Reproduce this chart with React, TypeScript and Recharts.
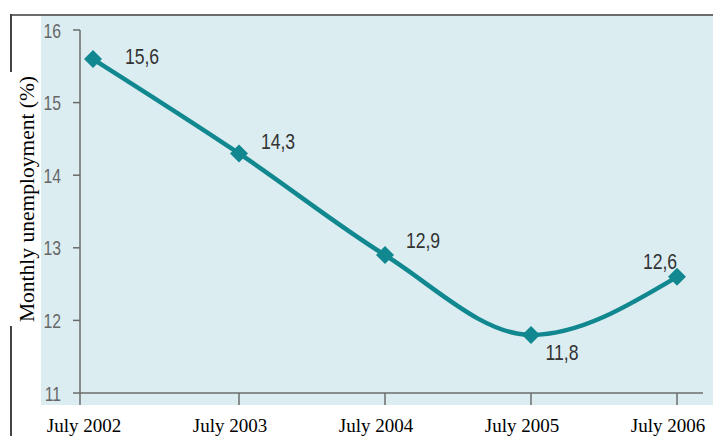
import { LineChart, Line, XAxis, YAxis, LabelList } from 'recharts';

const years = ['July 2002', 'July 2003', 'July 2004', 'July 2005', 'July 2006'];
const unemployment = [15.6, 14.3, 12.9, 11.8, 12.6];
const valueLabels = ['15,6', '14,3', '12,9', '11,8', '12,6'];
const yTicks = [11, 12, 13, 14, 15, 16];

// where each value label sits relative to its point (dx, dy)
const labelOffsets: [number, number][] = [[49, -3], [39, -12], [38, -15], [31, 17], [-17, -16]];

const TEAL = '#11888f';
const AXIS = '#6b6b6b';
const SANS = "'Liberation Sans', Arial, sans-serif";
const SERIF = "'Liberation Serif', 'Times New Roman', serif";

const chartData = years.map((year, i) => ({
  year,
  value: unemployment[i],
  label: valueLabels[i],
}));

const Diamond = (props: any) => {
  const { cx, cy } = props;
  if (cx == null || cy == null) return null;
  const r = 9;
  return <polygon points={`${cx},${cy - r} ${cx + r},${cy} ${cx},${cy + r} ${cx - r},${cy}`} fill={TEAL} />;
};

const XTick = (props: any) => {
  const { x, y, payload, index } = props;
  // first tick sits on the y axis itself in the original
  const lx = index === 0 ? x - 13 : x;
  return (
    <g>
      <line x1={lx} y1={y} x2={lx} y2={y + 12} stroke={AXIS} strokeWidth={1.5} />
      <text x={x - 9} y={y + 39} textAnchor="middle" fontFamily={SERIF} fontWeight={400} fontSize={19} fill="#000">
        {payload.value}
      </text>
    </g>
  );
};

// narrow sans look: squeeze Liberation Sans horizontally
const YTick = (props: any) => {
  const { x, y, payload } = props;
  return (
    <text transform={`translate(${x - 10} ${y + 7.5}) scale(0.75 1)`} textAnchor="end" fontFamily={SANS} fontSize={21} fill="#666">
      {payload.value}
    </text>
  );
};

const ValueLabel = (props: any) => {
  const { x, y, index, value } = props;
  const [dx, dy] = labelOffsets[index] ?? [0, 0];
  return (
    <text transform={`translate(${x + dx} ${y + dy + 8}) scale(0.8 1)`} textAnchor="middle" fontFamily={SANS} fontSize={22} fill="#333">
      {value}
    </text>
  );
};

export default function App() {
  return (
    <div style={{ position: 'absolute', left: 0, top: 0, width: 713, height: 436, background: '#fff', overflow: 'hidden' }}>
      {/* panel background + frame */}
      <div style={{ position: 'absolute', left: 41, top: 16, width: 672, height: 389, background: '#dcedf2' }} />
      <div style={{ position: 'absolute', left: 10, top: 14, width: 703, height: 2, background: AXIS }} />
      <div style={{ position: 'absolute', left: 10, top: 14, width: 1.5, height: 58, background: '#444' }} />
      <div style={{ position: 'absolute', left: 10, top: 326, width: 1.5, height: 110, background: '#444' }} />
      <div style={{ position: 'absolute', left: 0, top: 0 }}>
        <LineChart width={713} height={436} data={chartData} margin={{ top: 30, right: 10, bottom: 0, left: 0 }}>
          <XAxis
            dataKey="year"
            height={43}
            interval={0}
            padding={{ left: 13, right: 26 }}
            axisLine={{ stroke: AXIS, strokeWidth: 1.5 }}
            tickLine={false}
            tickSize={0}
            tickMargin={0}
            tick={<XTick />}
          />
          <YAxis
            width={80}
            domain={[11, 16]}
            ticks={yTicks}
            interval={0}
            axisLine={{ stroke: AXIS, strokeWidth: 1.5 }}
            tickLine={{ stroke: AXIS, strokeWidth: 1.5 }}
            tickSize={7}
            tick={<YTick />}
            label={{
              content: () => (
                <text x={34} y={199} transform="rotate(-90 34 199)" textAnchor="middle" fontFamily={SERIF} fontSize={21.5} fill="#000">
                  Monthly unemployment (%)
                </text>
              ),
            }}
          />
          <Line
            type="monotone"
            dataKey="value"
            stroke={TEAL}
            strokeWidth={4.5}
            dot={<Diamond />}
            activeDot={false}
            isAnimationActive={false}
          >
            <LabelList dataKey="label" content={<ValueLabel />} />
          </Line>
        </LineChart>
      </div>
    </div>
  );
}
